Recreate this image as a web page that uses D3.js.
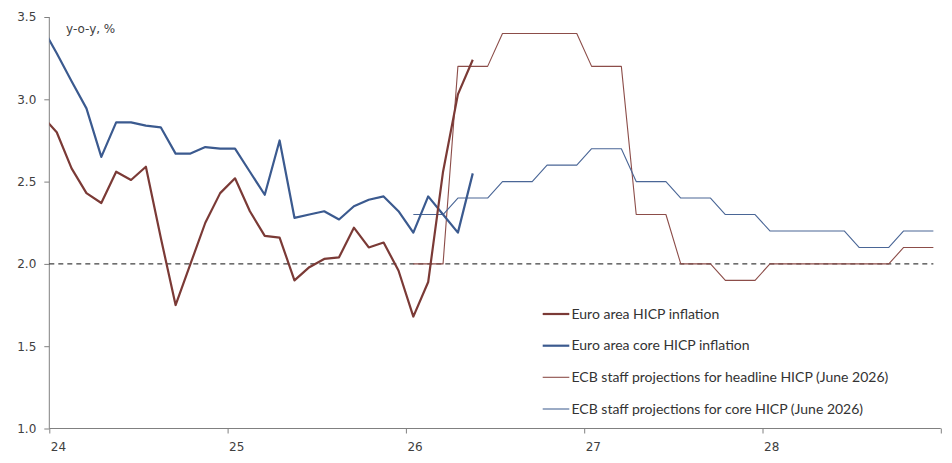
<!DOCTYPE html>
<html>
<head>
<meta charset="utf-8">
<script src="https://cdn.jsdelivr.net/npm/d3@7"></script>
<style>
  html, body { margin: 0; padding: 0; background: #fff; }
  svg { display: block; }
</style>
</head>
<body>
<svg id="chart" width="952" height="463"></svg>
<script>
// ---- Data (month index: 0 = Jan 2024; Dec 2023 = -1) ----
const actualMonths = ["2023-12","2024-01","2024-02","2024-03","2024-04","2024-05","2024-06","2024-07","2024-08","2024-09","2024-10","2024-11","2024-12",
  "2025-01","2025-02","2025-03","2025-04","2025-05","2025-06","2025-07","2025-08","2025-09","2025-10","2025-11","2025-12",
  "2026-01","2026-02","2026-03","2026-04","2026-05"];
const headline = [2.90,2.80,2.58,2.43,2.37,2.56,2.51,2.59,2.16,1.75,2.00,2.25,2.43,
  2.52,2.32,2.17,2.16,1.90,1.98,2.03,2.04,2.22,2.10,2.13,1.96,
  1.68,1.89,2.56,3.03,3.24];
const core = [3.44,3.28,3.11,2.945,2.65,2.86,2.86,2.84,2.83,2.67,2.67,2.71,2.70,
  2.70,2.56,2.42,2.75,2.28,2.30,2.32,2.27,2.35,2.39,2.41,2.32,
  2.19,2.41,2.30,2.19,2.55];

const projMonths = ["2026-01","2026-02","2026-03","2026-04","2026-05","2026-06","2026-07","2026-08","2026-09","2026-10","2026-11","2026-12",
  "2027-01","2027-02","2027-03","2027-04","2027-05","2027-06","2027-07","2027-08","2027-09","2027-10","2027-11","2027-12",
  "2028-01","2028-02","2028-03","2028-04","2028-05","2028-06","2028-07","2028-08","2028-09","2028-10","2028-11","2028-12"];
const projHeadline = [2.0,2.0,2.0,3.2,3.2,3.2,3.4,3.4,3.4,3.4,3.4,3.4,
  3.2,3.2,3.2,2.3,2.3,2.3,2.0,2.0,2.0,1.9,1.9,1.9,
  2.0,2.0,2.0,2.0,2.0,2.0,2.0,2.0,2.0,2.1,2.1,2.1];
const projCore = [2.3,2.3,2.3,2.4,2.4,2.4,2.5,2.5,2.5,2.6,2.6,2.6,
  2.7,2.7,2.7,2.5,2.5,2.5,2.4,2.4,2.4,2.3,2.3,2.3,
  2.2,2.2,2.2,2.2,2.2,2.2,2.1,2.1,2.1,2.2,2.2,2.2];

const yearTicks = [0, 12, 24, 36, 48, 60];
const yearLabels = ["24", "25", "26", "27", "28", ""];
const yTicks = [1.0, 1.5, 2.0, 2.5, 3.0, 3.5];
const targetLevel = 2.0;

const seriesNames = ["Euro area HICP inflation", "Euro area core HICP inflation",
  "ECB staff projections for headline HICP (June 2026)", "ECB staff projections for core HICP (June 2026)"];
const yUnit = "y-o-y, %";

// ---- Layout ----
const mLeft = 49.3, mRight = 940.8, mTop = 17, mBottom = 428.5;
const colHead = "#7b3a36", colCore = "#3b5a8f", colPHead = "#8c4d49", colPCore = "#4a6696";
const axisCol = "#808080", textCol = "#404040";

function monthIndex(s) {
  const [yy, mm] = s.split("-").map(Number);
  return (yy - 2024) * 12 + (mm - 1);
}

const svg = d3.select("#chart");
const x = d3.scaleLinear().domain([0, 60]).range([mLeft, mRight]);
const y = d3.scaleLinear().domain([1.0, 3.5]).range([mBottom, mTop]);

svg.append("defs").append("clipPath").attr("id", "plot")
  .append("rect").attr("x", mLeft).attr("y", 0).attr("width", mRight - mLeft).attr("height", 463);

// Axes
const yAxis = d3.axisLeft(y).tickValues(yTicks).tickFormat(d3.format(".1f")).tickSize(5).tickPadding(8);
const gy = svg.append("g").attr("transform", `translate(${mLeft},0)`).call(yAxis);
const xAxis = d3.axisBottom(x).tickValues(yearTicks).tickFormat((d, i) => yearLabels[i]).tickSize(5).tickPadding(6);
const gx = svg.append("g").attr("transform", `translate(0,${mBottom})`).call(xAxis);

[gy, gx].forEach(g => {
  g.select(".domain").attr("stroke", axisCol).attr("stroke-width", 1);
  g.selectAll(".tick line").attr("stroke", axisCol);
  g.selectAll(".tick text").attr("fill", textCol)
    .style("font-family", "'DejaVu Sans', Verdana, sans-serif").style("font-size", "12px");
});
gy.select(".domain").attr("d", `M0,${mTop}V${mBottom}`);
gx.select(".domain").attr("d", `M${mLeft},0H${mRight}`);
gx.selectAll(".tick text").attr("text-anchor", "start").attr("dx", "1").attr("y", 14);

// Unit label
svg.append("text").attr("x", 66).attr("y", 32.5).text(yUnit)
  .attr("fill", textCol).style("font-family", "'DejaVu Sans', Verdana, sans-serif").style("font-size", "12px");

// Target dashed line
svg.append("line")
  .attr("x1", mLeft).attr("x2", x(59.5)).attr("y1", y(targetLevel)).attr("y2", y(targetLevel))
  .attr("stroke", "#111").attr("stroke-width", 1).attr("stroke-dasharray", "5,4");

const plot = svg.append("g").attr("clip-path", "url(#plot)");
const line = d3.line().x(d => x(d.m + 0.5)).y(d => y(d.v));

function mk(months, vals) { return months.map((m, i) => ({ m: monthIndex(m), v: vals[i] })); }

plot.append("path").datum(mk(projMonths, projHeadline)).attr("d", line)
  .attr("fill", "none").attr("stroke", colPHead).attr("stroke-width", 1.1).attr("stroke-linejoin", "round");
plot.append("path").datum(mk(projMonths, projCore)).attr("d", line)
  .attr("fill", "none").attr("stroke", colPCore).attr("stroke-width", 1.1).attr("stroke-linejoin", "round");
plot.append("path").datum(mk(actualMonths, core)).attr("d", line)
  .attr("fill", "none").attr("stroke", colCore).attr("stroke-width", 2.2).attr("stroke-linejoin", "round");
plot.append("path").datum(mk(actualMonths, headline)).attr("d", line)
  .attr("fill", "none").attr("stroke", colHead).attr("stroke-width", 2.2).attr("stroke-linejoin", "round");

// Legend
const legendStyles = [
  { c: colHead, w: 2.2 }, { c: colCore, w: 2.2 }, { c: colPHead, w: 1.1 }, { c: colPCore, w: 1.1 }
];
const legY = [314, 345.7, 377.3, 409];
const lg = svg.append("g");
const texts = [];
seriesNames.forEach((name, i) => {
  lg.append("line").attr("x1", 542.7).attr("x2", 569.3).attr("y1", legY[i]).attr("y2", legY[i])
    .attr("stroke", legendStyles[i].c).attr("stroke-width", legendStyles[i].w);
  texts.push(lg.append("text").attr("x", 571.5).attr("y", legY[i] + 4.5).text(name)
    .attr("fill", "#333").style("font-family", "Lato, 'Open Sans', sans-serif").style("font-size", "13px"));
});
// fit legend font so the longest entry spans the reference width (~320px)
const longest = texts[2].node().getComputedTextLength();
const fs = 13 * 320 / longest;
texts.forEach(t => t.style("font-size", Math.min(14, Math.max(11, fs)) + "px"));
</script>
</body>
</html>
